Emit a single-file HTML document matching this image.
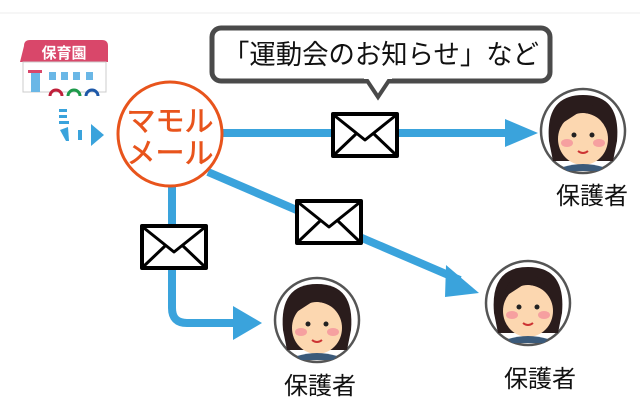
<!DOCTYPE html>
<html><head><meta charset="utf-8"><style>
html,body{margin:0;padding:0;background:#fff}
svg{display:block}
text{font-family:"Liberation Sans","Noto Sans CJK JP",sans-serif}
</style></head><body>
<svg width="640" height="420" viewBox="0 0 640 420" xmlns="http://www.w3.org/2000/svg">
<rect x="0" y="0" width="640" height="420" fill="#fff"/>
<line x1="0" y1="13" x2="640" y2="13" stroke="#eee" stroke-width="1"/>
<!-- school -->
<path d="M24 46 Q24 40 30 40 L102 40 Q108 40 108 46 L108 62 L20 62 Z" fill="#d9476a"/>
<text x="64" y="58" font-size="15" font-weight="bold" fill="#fff" text-anchor="middle">保育園</text>
<rect x="23" y="62" width="83" height="30" fill="#fff" stroke="#ccc"/>
<rect x="28" y="70" width="14" height="3" fill="#d9476a"/>
<rect x="31" y="73" width="9" height="19" fill="#6ab7e6"/>
<rect x="49" y="72" width="7" height="8" fill="#6ab7e6"/><rect x="61" y="72" width="7" height="8" fill="#6ab7e6"/><rect x="73" y="72" width="7" height="8" fill="#6ab7e6"/><rect x="86" y="72" width="7" height="8" fill="#6ab7e6"/>
<path d="M50 96 a6 6 0 0 1 12 0" fill="none" stroke="#c0203a" stroke-width="3"/>
<path d="M68 96 a6 6 0 0 1 12 0" fill="none" stroke="#1e9a4a" stroke-width="3"/>
<path d="M86 96 a6 6 0 0 1 12 0" fill="none" stroke="#1d58a8" stroke-width="3"/>
<!-- signal -->
<g fill="#3aa3dc"><rect x="59" y="109" width="8" height="3"/><rect x="59" y="115" width="8" height="3"/><rect x="59" y="121" width="10" height="3"/><path d="M60 130 L68 127 L69 141 L66 141 Z"/><rect x="78" y="130" width="4" height="10"/><path d="M91 124 L104 135 L91 146 Z"/></g>
<!-- bubble -->
<rect x="212" y="28" width="338" height="53" rx="9" fill="#fff" stroke="#4a4a4a" stroke-width="5"/>
<path d="M366 79 L378 97 L390 79" fill="#fff" stroke="#4a4a4a" stroke-width="4" stroke-linejoin="miter"/>
<rect x="364" y="76" width="28" height="3" fill="#fff"/>
<text x="381" y="64" font-size="27" fill="#111" text-anchor="middle" textLength="316" lengthAdjust="spacingAndGlyphs">「運動会のお知らせ」など</text>
<!-- lines -->
<g stroke="#3aa3dc" stroke-width="8" fill="none">
<line x1="222" y1="133" x2="510" y2="133"/>
<line x1="208" y1="172" x2="460" y2="280"/>
<path d="M172 180 L172 308 Q172 323 187 323 L240 323"/>
</g>
<g fill="#3aa3dc">
<path d="M505 119 L538 133 L505 147 Z"/>
<path d="M446 265 L479 293 L445 297 Z"/>
<path d="M233 306 L262 323 L233 340 Z"/>
</g>
<!-- circle -->
<circle cx="170" cy="134" r="52" fill="#fff" stroke="#e8541c" stroke-width="3"/>
<text x="170" y="131" font-size="29" fill="#e8541c" stroke="#e8541c" stroke-width="0.6" text-anchor="middle">マモル</text>
<text x="170" y="163" font-size="29" fill="#e8541c" stroke="#e8541c" stroke-width="0.6" text-anchor="middle">メール</text>
<!-- envelopes -->
<g fill="#fff" stroke="#000" stroke-width="4" stroke-linejoin="round">
<rect x="333" y="114" width="64" height="42"/><path d="M335 116 L365 140 L395 116 M335 154 L356 134 M395 154 L374 134" fill="none" stroke-width="3"/>
<rect x="297" y="201" width="64" height="42"/><path d="M299 203 L329 227 L359 203 M299 241 L320 221 M359 241 L338 221" fill="none" stroke-width="3"/>
<rect x="142" y="226" width="64" height="42"/><path d="M144 228 L174 252 L204 228 M144 266 L165 246 M204 266 L183 246" fill="none" stroke-width="3"/>
</g>
<!-- avatars -->
<defs><g id="av">
<circle r="42" fill="#fff" stroke="#555" stroke-width="2.5"/>
<path d="M-34 10 Q-38 -36 0 -36 Q38 -36 34 10 L30 30 L-30 30 Z" fill="#2a1c1c"/>
<ellipse cx="0" cy="8" rx="25" ry="26" fill="#fcd7b0"/>
<path d="M-25 -5 Q-20 -30 0 -28 Q15 -28 25 -5 Q10 -20 -5 -18 Z" fill="#2a1c1c"/>
<ellipse cx="-16" cy="12" rx="6" ry="4" fill="#f6a0a0"/><ellipse cx="16" cy="12" rx="6" ry="4" fill="#f6a0a0"/>
<circle cx="-9" cy="4" r="2.5" fill="#222"/><circle cx="9" cy="4" r="2.5" fill="#222"/>
<path d="M-5 20 Q0 24 5 20" stroke="#c33" stroke-width="2" fill="none"/>
<path d="M-20 36 Q0 30 20 36 L16 40 L-16 40 Z" fill="#3b5a7a"/>
</g></defs>
<use href="#av" x="583" y="131"/>
<use href="#av" x="317" y="320"/>
<use href="#av" x="528" y="303"/>
<g font-size="24" fill="#111" text-anchor="middle">
<text x="592" y="204">保護者</text>
<text x="320" y="394">保護者</text>
<text x="540" y="387">保護者</text>
</g>
</svg>
</body></html>
